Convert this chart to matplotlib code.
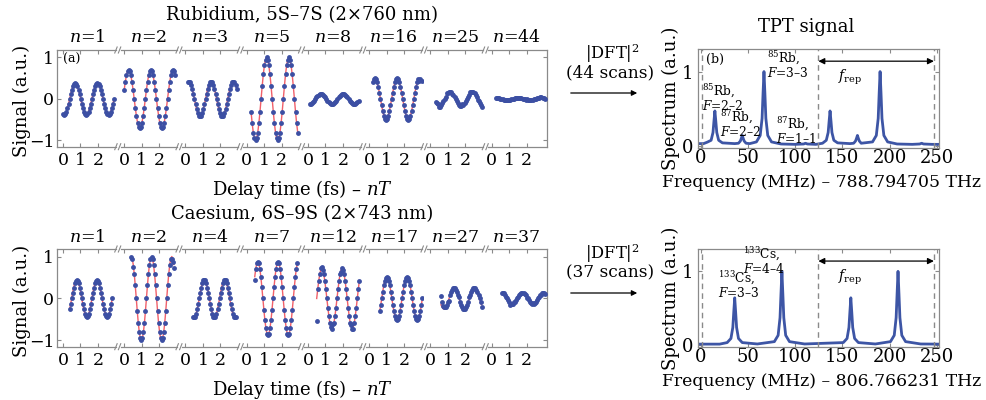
import numpy as np
import matplotlib
matplotlib.use("Agg")
import matplotlib.pyplot as plt
from matplotlib.patches import FancyArrowPatch

plt.rcParams["font.family"] = ["DejaVu Serif"]
plt.rcParams["mathtext.fontset"] = "dejavuserif"

W, H = 987, 400
GRAY = "#8a8a8a"
DOT_C = "#3c4fa3"
FIT_C = "#f0606a"
SPEC_C = "#3d55a5"

# ── time-domain segments (delay time in fs, signal in a.u.) ─────────────────
RB_N  = [1, 2, 3, 5, 8, 16, 25, 44]
RB_DT = 0.0635
RB_T0 = [0.0, 0.0, 0.13, 0.25, 0.10, 0.20, 0.30, 0.24]
RB_FIT = [
    [-.36, -.38, -.36, -.31, -.22, -.12, 0, .12, .22, .31, .36, .38, .36, .31, .22, .12, 0, -.12, -.22, -.31,
     -.36, -.38, -.36, -.31, -.22, -.12, 0, .12, .22, .31, .36, .38, .36, .31, .22, .12, 0, -.12, -.22, -.31,
     -.36, -.38, -.36, -.31, -.22, -.12, 0],
    [.22, .41, .57, .67, .70, .67, .57, .41, .22, 0, -.22, -.41, -.57, -.67, -.70, -.67, -.57, -.41, -.22, 0,
     .22, .41, .57, .67, .70, .67, .57, .41, .22, 0, -.22, -.41, -.57, -.67, -.70, -.67, -.57, -.41, -.22, 0,
     .22, .41, .57, .67, .70, .67, .57],
    [.40, .42, .40, .34, .25, .13, 0, -.13, -.25, -.34, -.40, -.42, -.40, -.34, -.25, -.13, 0, .13, .25, .34,
     .40, .42, .40, .34, .25, .13, 0, -.13, -.25, -.34, -.40, -.42, -.40, -.34, -.25, -.13, 0, .13, .25, .34,
     .40, .42, .40, .34, .25],
    [-.31, -.59, -.81, -.95, -1.0, -.95, -.81, -.59, -.31, 0, .31, .59, .81, .95, 1.0, .95, .81, .59, .31, 0,
     -.31, -.59, -.81, -.95, -1.0, -.95, -.81, -.59, -.31, 0, .31, .59, .81, .95, 1.0, .95, .81, .59, .31, 0,
     -.31, -.59, -.81],
    [-.12, -.11, -.10, -.07, -.04, 0, .04, .07, .10, .11, .12, .11, .10, .07, .04, 0, -.04, -.07, -.10, -.11,
     -.12, -.11, -.10, -.07, -.04, 0, .04, .07, .10, .11, .12, .11, .10, .07, .04, 0, -.04, -.07, -.10, -.11,
     -.12, -.11, -.10, -.07, -.04],
    [.40, .48, .50, .48, .40, .29, .15, 0, -.15, -.29, -.40, -.48, -.50, -.48, -.40, -.29, -.15, 0, .15, .29,
     .40, .48, .50, .48, .40, .29, .15, 0, -.15, -.29, -.40, -.48, -.50, -.48, -.40, -.29, -.15, 0, .15, .29,
     .40, .48, .50, .48, .40],
    [-.10, -.14, -.16, -.17, -.16, -.14, -.10, -.05, 0, .05, .10, .14, .16, .17, .16, .14, .10, .05, 0, -.05,
     -.10, -.14, -.16, -.17, -.16, -.14, -.10, -.05, 0, .05, .10, .14, .16, .17, .16, .14, .10, .05, 0, -.05,
     -.10, -.14, -.16],
    [.03, .03, .02, .02, .01, 0, -.01, -.02, -.02, -.03, -.03, -.03, -.02, -.02, -.01, 0, .01, .02, .02, .03,
     .03, .03, .02, .02, .01, 0, -.01, -.02, -.02, -.03, -.03, -.03, -.02, -.02, -.01, 0, .01, .02, .02, .03,
     .03, .03, .02, .02, .01],
]
# scatter of the measured points around the fit
RB_DEV = {5: {42: -0.06, 44: 0.04},
          6: {0: .03, 1: .04, 2: .04, 3: -.03, 4: -.04, 10: .04, 15: -.03, 24: .03, 31: .03, 38: -.03, 42: -.04},
          7: {6: .01, 16: -.015, 28: .01, 40: .01, 41: .01}}

CS_N  = [1, 2, 4, 7, 12, 17, 27, 37]
CS_DT = 0.058
CS_T0 = [0.38, 0.40, 0.44, 0.46, 0.50, 0.60, 0.60, 0.60]
CS_FIT = [
    [-.26, -.14, 0, .14, .26, .36, .42, .44, .42, .36, .26, .14, 0, -.14, -.26, -.36, -.42, -.44, -.42, -.36,
     -.26, -.14, 0, .14, .26, .36, .42, .44, .42, .36, .26, .14, 0, -.14, -.26, -.36, -.42, -.44, -.42, -.36,
     -.26, -.14, 0],
    [1.0, .95, .81, .59, .31, 0, -.31, -.59, -.81, -.95, -1.0, -.95, -.81, -.59, -.31, 0, .31, .59, .81, .95,
     1.0, .95, .81, .59, .31, 0, -.31, -.59, -.81, -.95, -1.0, -.95, -.81, -.59, -.31, 0, .31, .59, .81, .95,
     1.0, .95, .81],
    [-.43, -.45, -.43, -.36, -.26, -.14, 0, .14, .26, .36, .43, .45, .43, .36, .26, .14, 0, -.14, -.26, -.36,
     -.43, -.45, -.43, -.36, -.26, -.14, 0, .14, .26, .36, .43, .45, .43, .36, .26, .14, 0, -.14, -.26, -.36,
     -.43, -.45, -.43],
    [.52, .71, .84, .88, .84, .71, .52, .27, 0, -.27, -.52, -.71, -.84, -.88, -.84, -.71, -.52, -.27, 0, .27,
     .52, .71, .84, .88, .84, .71, .52, .27, 0, -.27, -.52, -.71, -.84, -.88, -.84, -.71, -.52, -.27, 0, .27,
     .52, .71, .84],
    [0, .22, .42, .58, .68, .72, .68, .58, .42, .22, 0, -.22, -.42, -.58, -.68, -.72, -.68, -.58, -.42, -.22,
     0, .22, .42, .58, .68, .72, .68, .58, .42, .22, 0, -.22, -.42, -.58, -.68, -.72, -.68, -.58, -.42, -.22,
     0, .22, .42],
    [-.31, -.16, 0, .16, .31, .42, .49, .52, .49, .42, .31, .16, 0, -.16, -.31, -.42, -.49, -.52, -.49, -.42,
     -.31, -.16, 0, .16, .31, .42, .49, .52, .49, .42, .31, .16, 0, -.16, -.31, -.42, -.49, -.52, -.49, -.42,
     -.31, -.16, 0],
    [-.15, -.20, -.24, -.25, -.24, -.20, -.15, -.08, 0, .08, .15, .20, .24, .25, .24, .20, .15, .08, 0, -.08,
     -.15, -.20, -.24, -.25, -.24, -.20, -.15, -.08, 0, .08, .15, .20, .24, .25, .24, .20, .15, .08, 0, -.08,
     -.15],
    [.13, .12, .11, .08, .04, 0, -.04, -.08, -.11, -.12, -.13, -.12, -.11, -.08, -.04, 0, .04, .08, .11, .12,
     .13, .12, .11, .08, .04, 0, -.04, -.08, -.11, -.12, -.13, -.12, -.11, -.08, -.04, 0, .04, .08, .11, .12,
     .13, .12, .11],
]
CS_DEV = {1: {2: -.05, 40: -.05, 41: -.07, 42: -.08},
          3: {0: -.08},
          4: {0: -.53, 4: .05, 5: .04, 16: .06, 24: -.05, 34: .05, 36: -.05},
          6: {0: .22, 1: .12, 2: .06, 3: .05, 4: .04, 8: -.05, 18: .04, 28: .04, 40: -.06},
          7: {2: .03, 8: -.04, 12: .03, 24: -.03, 30: .03, 38: -.02}}

# ── spectra (MHz offset, a.u.) ──────────────────────────────────────────────
RB_FREQ = [-4, 3, 7, 11, 13, 14, 15, 16, 17, 19, 23, 36, 40, 42, 43, 44, 45, 46, 48, 52,
           59, 63, 65, 66, 67, 68, 69, 71, 75, 85, 100, 109, 111, 113, 122,
           129, 133, 135, 136, 137, 138, 139, 141, 145, 158, 162, 164, 165, 166, 167, 168, 170,
           182, 186, 188, 189, 190, 191, 192, 194, 198, 208, 224, 232, 234, 236, 245, 253]
RB_SPEC = [.03, .03, .05, .075, .18, .33, .47, .33, .18, .075, .04, .03, .035, .065, .10, .14, .10, .065, .035, .03,
           .053, .14, .37, .70, 1.0, .70, .37, .14, .053, .025, .02, .025, .035, .025, .02,
           .035, .075, .18, .33, .47, .33, .18, .075, .04, .03, .035, .065, .10, .14, .10, .065, .035,
           .053, .14, .37, .70, 1.0, .70, .37, .14, .053, .025, .02, .025, .035, .025, .02, .02]

CS_FREQ = [-4, 20, 28, 32, 34, 35, 36, 37, 38, 40, 44, 60, 78, 82, 84, 85, 86, 87, 88, 90, 94, 110,
           151, 155, 157, 158, 159, 160, 161, 163, 167, 185, 201, 205, 207, 208, 209, 210, 211, 213, 217, 233, 253]
CS_SPEC = [.01, .01, .031, .087, .237, .445, .64, .445, .237, .087, .031, .012, .044, .13, .37, .69, 1.0, .69, .37, .13, .044, .012,
           .031, .087, .237, .445, .64, .445, .237, .087, .031, .012, .044, .13, .37, .69, 1.0, .69, .37, .13, .044, .012, .01]

FREP_LINES = [1.7, 124.6, 247.0]

RB_LABELS = [(1.4, 0.65, r"$^{85}$Rb," + "\n" + r"$F$=2–2"),
             (20.5, 0.30, r"$^{87}$Rb," + "\n" + r"$F$=2–2"),
             (70.0, 1.09, r"$^{85}$Rb," + "\n" + r"$F$=3–3"),
             (80.0, 0.20, r"$^{87}$Rb," + "\n" + r"$F$=1–1")]
CS_LABELS = [(45.0, 1.14, r"$^{133}$Cs," + "\n" + r"$F$=4–4"),
             (18.0, 0.82, r"$^{133}$Cs," + "\n" + r"$F$=3–3")]


def fx(px):
    return px / W


def fy(py):
    return 1 - py / H


def style_ax(ax):
    for s in ax.spines.values():
        s.set_color(GRAY)
        s.set_linewidth(0.9)
    ax.tick_params(direction="in", color=GRAY, width=0.8, length=3)


def time_row(fig, top, bot, n_list, t0_list, fits, devs, dt, title, first_label):
    x0, x1 = 57, 547
    seg_w = (x1 - x0) / 8
    xl, xr = -0.34, 3.16
    gap = 2.5 / 17.5
    axes = []
    for k in range(8):
        ax = fig.add_axes([fx(x0 + k * seg_w), fy(bot), fx(seg_w), (bot - top) / H])
        style_ax(ax)
        fit = np.array(fits[k])
        t = t0_list[k] + dt * np.arange(len(fit))
        dots = fit.copy()
        for i, d in devs.get(k, {}).items():
            dots[i] += d
        ax.plot(t, fit, color=FIT_C, lw=1.0, zorder=2)
        ax.plot(t, dots, "o", color=DOT_C, ms=3.5, mew=0, zorder=3)
        ax.set_xlim(xl, xr)
        ax.set_ylim(-1.15, 1.18)
        ax.set_xticks([0, 1, 2])
        ax.set_yticks([-1, 0, 1])
        ax.tick_params(top=True, bottom=True, labelsize=12.5, pad=3.5)
        ax.tick_params(axis="y", left=(k == 0), right=(k == 7), labelleft=(k == 0), pad=2)
        ax.set_yticklabels(["−1", "0", "1"])
        if k > 0:
            ax.spines["left"].set_visible(False)
        if k < 7:
            ax.spines["right"].set_visible(False)
        lo = xl + gap if k > 0 else xl
        hi = xr - gap if k < 7 else xr
        ax.spines["top"].set_bounds(lo, hi)
        ax.spines["bottom"].set_bounds(lo, hi)
        ax.text(0.5, 1.0 + 12 / (bot - top), rf"$n$={n_list[k]}", transform=ax.transAxes,
                ha="center", va="center", fontsize=12.5)
        axes.append(ax)
        if k > 0:
            # break marks on top and bottom spines
            hw = 1.0 / seg_w
            hh = 1.0 / (bot - top)
            for yb in (0.0, 1.0):
                for off in (-2.3, 1.3):
                    ax.plot([(off - 1.2) * hw, (off + 1.2) * hw], [yb - 3 * hh, yb + 3 * hh],
                            transform=ax.transAxes, color=GRAY, lw=0.8, clip_on=False)
    if first_label:
        axes[0].text(0.1, 0.9, first_label, transform=axes[0].transAxes, fontsize=9,
                     ha="left", va="center")
    fig.text(fx(302), fy(top - 35), title, ha="center", va="center", fontsize=13)
    fig.text(fx(22), fy((top + bot) / 2 + 3), "Signal (a.u.)", rotation=90,
             ha="center", va="center", fontsize=13)
    fig.text(fx(302), fy(bot + 43), r"Delay time (fs) – $nT$", ha="center", va="center", fontsize=13)


def spec_panel(fig, top, bot, freq, spec, labels, const, first_label, title=None):
    ax = fig.add_axes([fx(697.7), fy(bot), fx(241.3), (bot - top) / H])
    style_ax(ax)
    ax.plot(freq, spec, color=SPEC_C, lw=2.0, solid_joinstyle="round")
    for xv in FREP_LINES:
        ax.axvline(xv, color=GRAY, lw=1.0, ls=(0, (4, 3)))
    ax.set_xlim(-3.2, 252.4)
    ax.set_ylim(-0.025, 1.3)
    ax.set_xticks([0, 50, 100, 150, 200, 250])
    ax.set_yticks([0, 1])
    ax.tick_params(top=True, right=True, labelsize=13, pad=1)
    ax.tick_params(axis="y", pad=3)
    ya = 1.14
    ax.annotate("", xy=(FREP_LINES[2], ya), xytext=(FREP_LINES[1], ya),
                arrowprops=dict(arrowstyle="<|-|>", color="black", lw=0.9,
                                mutation_scale=9, shrinkA=0, shrinkB=0))
    ax.text(158, 0.92, r"$f_{\rm rep}$", fontsize=10, ha="center", va="center")
    for xv, yv, s in labels:
        ax.text(xv, yv, s, fontsize=8.8, ha="left", va="center", linespacing=0.95)
    if first_label:
        ax.text(0.035, 0.9, first_label, transform=ax.transAxes, fontsize=9, ha="left", va="center")
    if title:
        fig.text(fx(806), fy(top - 22), title, ha="center", va="center", fontsize=13)
    fig.text(fx(671), fy((top + bot) / 2), "Spectrum (a.u.)", rotation=90,
             ha="center", va="center", fontsize=13)
    fig.text(fx(822), fy(bot + 35), f"Frequency (MHz) – {const} THz", ha="center", va="center", fontsize=12.4)


def dft_label(fig, y0, scans):
    fig.text(fx(612), fy(y0 - 4), r"|DFT|$^2$", ha="center", va="center", fontsize=11.8)
    fig.text(fx(610), fy(y0 + 15), f"({scans} scans)", ha="center", va="center", fontsize=12.2)
    fig.add_artist(FancyArrowPatch(
        (fx(568), fy(y0 + 35)), (fx(640), fy(y0 + 35)), transform=fig.transFigure,
        arrowstyle="-|>", mutation_scale=8, color="black", lw=0.9))


fig = plt.figure(figsize=(W / 100, H / 100), dpi=100)

time_row(fig, 50, 146.7, RB_N, RB_T0, RB_FIT, RB_DEV, RB_DT, "Rubidium, 5S–7S (2×760 nm)", "(a)")
time_row(fig, 249, 346.7, CS_N, CS_T0, CS_FIT, CS_DEV, CS_DT, "Caesium, 6S–9S (2×743 nm)", None)

spec_panel(fig, 49.3, 147.7, RB_FREQ, RB_SPEC, RB_LABELS, "788.794705", "(b)", "TPT signal")
spec_panel(fig, 249.3, 346.7, CS_FREQ, CS_SPEC, CS_LABELS, "806.766231", None)

dft_label(fig, 58, 44)
dft_label(fig, 258, 37)

fig.savefig("out.png", dpi=100)
